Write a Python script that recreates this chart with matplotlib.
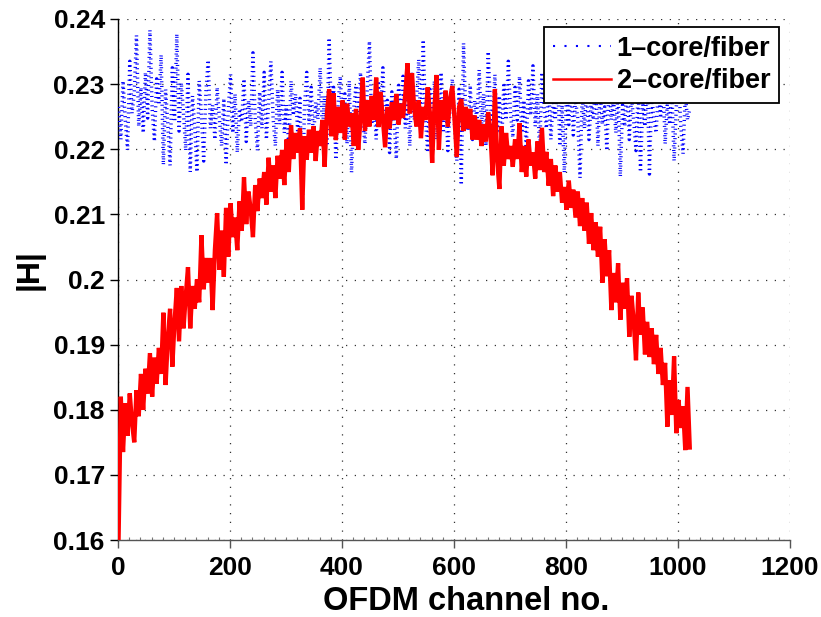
import numpy as np
import matplotlib
matplotlib.use("Agg")
import matplotlib.pyplot as plt
from matplotlib.lines import Line2D
from matplotlib.ticker import FuncFormatter, MultipleLocator

# OFDM sub-channel index (every 4th channel of the 1024)
channels = np.arange(1, 1025, 4)

# |H| per channel, single core per fiber
h_one_core = [
    0.2265, 0.2215, 0.2305, 0.2245, 0.2199, 0.2335, 0.2255, 0.2285, 0.2375, 0.2235, 0.2295, 0.2225, 0.2318, 0.2248, 0.2383, 0.2262,
    0.2212, 0.2308, 0.2268, 0.2345, 0.2176, 0.2292, 0.2238, 0.2175, 0.2325, 0.2242, 0.2377, 0.2228, 0.2302, 0.2255, 0.2198, 0.2315,
    0.2165, 0.2282, 0.2235, 0.2165, 0.2305, 0.2252, 0.2182, 0.2288, 0.2337, 0.2232, 0.2268, 0.2215, 0.2295, 0.2248, 0.2205, 0.2278,
    0.2176, 0.2262, 0.2315, 0.2225, 0.2285, 0.2195, 0.2262, 0.2242, 0.2308, 0.2212, 0.2275, 0.2235, 0.2348, 0.2245, 0.2198, 0.2288,
    0.2232, 0.2318, 0.2215, 0.2272, 0.2335, 0.2248, 0.2205, 0.2292, 0.2238, 0.2318, 0.2225, 0.2268, 0.2199, 0.2305, 0.2252, 0.2285,
    0.2225, 0.2278, 0.2107, 0.2265, 0.2318, 0.2238, 0.2295, 0.2215, 0.2272, 0.2246, 0.2325, 0.2228, 0.2282, 0.2205, 0.2371, 0.2252,
    0.2295, 0.2184, 0.2268, 0.2312, 0.2235, 0.2285, 0.2208, 0.2305, 0.2164, 0.2262, 0.2298, 0.2222, 0.2318, 0.2245, 0.2208, 0.2292,
    0.2366, 0.2238, 0.2282, 0.2215, 0.2305, 0.2252, 0.2325, 0.2228, 0.2275, 0.2195, 0.2288, 0.2245, 0.2185, 0.2298, 0.2255, 0.2312,
    0.2232, 0.2282, 0.2205, 0.2315, 0.2245, 0.2272, 0.2338, 0.2228, 0.2368, 0.2248, 0.2195, 0.2292, 0.2235, 0.2305, 0.2215, 0.2265,
    0.2318, 0.2225, 0.2285, 0.2198, 0.2265, 0.2308, 0.2238, 0.2182, 0.2292, 0.2145, 0.2363, 0.2252, 0.2228, 0.2298, 0.2215, 0.2275,
    0.2245, 0.2322, 0.2235, 0.2285, 0.2205, 0.2350, 0.2268, 0.2238, 0.2315, 0.2228, 0.2282, 0.2205, 0.2302, 0.2245, 0.2335, 0.2255,
    0.2218, 0.2295, 0.2245, 0.2312, 0.2225, 0.2275, 0.2198, 0.2305, 0.2252, 0.2328, 0.2235, 0.2285, 0.2195, 0.2318, 0.2262, 0.2232,
    0.2298, 0.2215, 0.2278, 0.2245, 0.2315, 0.2205, 0.2268, 0.2164, 0.2292, 0.2238, 0.2305, 0.2222, 0.2275, 0.2248, 0.2156, 0.2285,
    0.2232, 0.2298, 0.2215, 0.2272, 0.2245, 0.2312, 0.2205, 0.2288, 0.2238, 0.2265, 0.2198, 0.2302, 0.2245, 0.2278, 0.2225, 0.2292,
    0.2158, 0.2268, 0.2235, 0.2305, 0.2215, 0.2282, 0.2242, 0.2198, 0.2295, 0.2165, 0.2272, 0.2235, 0.2308, 0.2162, 0.2285, 0.2245,
    0.2225, 0.2298, 0.2248, 0.2315, 0.2208, 0.2272, 0.2238, 0.2292, 0.2182, 0.2265, 0.2312, 0.2235, 0.2193, 0.2285, 0.2245, 0.2262,
]

# |H| per channel, two cores per fiber
h_two_core = [
    0.1600, 0.1820, 0.1735, 0.1810, 0.1760, 0.1825, 0.1780, 0.1750, 0.1830, 0.1790, 0.1855, 0.1800, 0.1863, 0.1825, 0.1887, 0.1820,
    0.1880, 0.1840, 0.1895, 0.1855, 0.1949, 0.1838, 0.1910, 0.1955, 0.1866, 0.1935, 0.1987, 0.1905, 0.1990, 0.1925, 0.1975, 0.2019,
    0.1925, 0.1990, 0.1955, 0.2000, 0.1965, 0.2068, 0.1985, 0.2033, 0.1995, 0.2033, 0.1953, 0.2045, 0.2102, 0.2015, 0.2075, 0.2004,
    0.2110, 0.2035, 0.2117, 0.2065, 0.2095, 0.2045, 0.2120, 0.2075, 0.2157, 0.2085, 0.2135, 0.2107, 0.2065, 0.2145, 0.2105, 0.2155,
    0.2125, 0.2165, 0.2115, 0.2187, 0.2135, 0.2175, 0.2125, 0.2190, 0.2155, 0.2199, 0.2145, 0.2215, 0.2165, 0.2237, 0.2185, 0.2225,
    0.2195, 0.2232, 0.2107, 0.2220, 0.2184, 0.2230, 0.2195, 0.2235, 0.2182, 0.2228, 0.2205, 0.2245, 0.2173, 0.2255, 0.2292, 0.2220,
    0.2286, 0.2214, 0.2265, 0.2225, 0.2275, 0.2215, 0.2270, 0.2235, 0.2255, 0.2205, 0.2262, 0.2199, 0.2245, 0.2310, 0.2228, 0.2275,
    0.2235, 0.2282, 0.2245, 0.2310, 0.2234, 0.2288, 0.2245, 0.2203, 0.2265, 0.2232, 0.2272, 0.2245, 0.2285, 0.2238, 0.2270, 0.2248,
    0.2285, 0.2332, 0.2255, 0.2317, 0.2262, 0.2235, 0.2275, 0.2217, 0.2265, 0.2245, 0.2295, 0.2255, 0.2179, 0.2265, 0.2314, 0.2199,
    0.2275, 0.2245, 0.2290, 0.2235, 0.2278, 0.2297, 0.2245, 0.2188, 0.2265, 0.2277, 0.2228, 0.2265, 0.2232, 0.2262, 0.2215, 0.2252,
    0.2215, 0.2245, 0.2205, 0.2238, 0.2212, 0.2257, 0.2225, 0.2160, 0.2292, 0.2185, 0.2139, 0.2235, 0.2175, 0.2225, 0.2185, 0.2205,
    0.2173, 0.2215, 0.2185, 0.2240, 0.2165, 0.2205, 0.2158, 0.2215, 0.2175, 0.2195, 0.2155, 0.2212, 0.2168, 0.2233, 0.2165, 0.2196,
    0.2144, 0.2185, 0.2128, 0.2175, 0.2135, 0.2165, 0.2118, 0.2142, 0.2107, 0.2152, 0.2110, 0.2138, 0.2095, 0.2135, 0.2082, 0.2125,
    0.2075, 0.2118, 0.2055, 0.2102, 0.2045, 0.2088, 0.2035, 0.2081, 0.1995, 0.2062, 0.2005, 0.2045, 0.1953, 0.2010, 0.1965, 0.2025,
    0.1938, 0.1995, 0.1955, 0.2002, 0.1912, 0.1975, 0.1935, 0.1876, 0.1980, 0.1915, 0.1957, 0.1885, 0.1935, 0.1881, 0.1925, 0.1870,
    0.1915, 0.1855, 0.1895, 0.1838, 0.1872, 0.1774, 0.1845, 0.1792, 0.1882, 0.1764, 0.1815, 0.1772, 0.1805, 0.1738, 0.1835, 0.1742,
]

series_labels = ["1\u2013core/fiber", "2\u2013core/fiber"]
x_ticks = [0, 200, 400, 600, 800, 1000, 1200]
y_ticks = [0.16, 0.17, 0.18, 0.19, 0.20, 0.21, 0.22, 0.23, 0.24]

plt.rcParams["font.family"] = ["Liberation Sans", "DejaVu Sans"]
plt.rcParams["font.weight"] = "bold"

fig = plt.figure(figsize=(8.21, 6.17), dpi=100)
ax = fig.add_axes([118 / 821, 77 / 617, 672 / 821, 521 / 617])

blue_line, = ax.plot(channels, h_one_core, color=(0, 0, 1), lw=2.5,
                     dashes=(0.3, 1.05), solid_capstyle="butt",
                     dash_capstyle="butt", zorder=3)
red_line, = ax.plot(channels, h_two_core, color=(1, 0, 0), lw=3.1,
                    solid_joinstyle="miter", zorder=4)

ax.set_xlim(0, 1200)
ax.set_ylim(0.16, 0.24)
ax.set_xticks(x_ticks)
ax.set_yticks(y_ticks)
ax.yaxis.set_major_formatter(FuncFormatter(lambda v, p: f"{v:g}"))
ax.xaxis.set_minor_locator(MultipleLocator(20))

ax.grid(True, which="major", color="#333333", lw=0.9,
        linestyle=(0, (1, 6)))

for side in ("top", "right"):
    ax.spines[side].set_visible(False)
ax.spines["left"].set_color("black")
ax.spines["left"].set_linewidth(1.0)
ax.spines["bottom"].set_color("#555555")
ax.spines["bottom"].set_linewidth(1.0)

ax.tick_params(axis="both", which="major", direction="out", length=5.5,
               width=1.0, labelsize=19, pad=4)
ax.tick_params(axis="x", which="major", colors="#555555", labelcolor="black",
               pad=6)
ax.tick_params(axis="x", which="minor", direction="in", length=2.5,
               width=0.8, colors="#777777")
for lab in ax.get_xticklabels() + ax.get_yticklabels():
    lab.set_fontweight("bold")

ax.set_xlabel("OFDM channel no.", fontsize=23.5, fontweight="bold")
ax.xaxis.set_label_coords(0.518, -0.088)
ax.xaxis.label.set_va("top")
ax.set_ylabel("|H|", fontsize=23, fontweight="bold")
ax.yaxis.set_label_coords(-0.132, 0.52)
ax.yaxis.label.set_va("center")

legend_handles = [
    Line2D([], [], color=(0, 0, 1), lw=1.5, dashes=(1, 4.5)),
    Line2D([], [], color=(1, 0, 0), lw=1.8),
]
leg = ax.legend(legend_handles, series_labels, loc="upper right",
                bbox_to_anchor=(779 / 821, 1 - 27 / 617),
                bbox_transform=fig.transFigure, borderaxespad=0,
                prop={"weight": "bold", "size": 19.5},
                handlelength=2.15, handletextpad=0.2, labelspacing=0.25,
                borderpad=0.32, fancybox=False, framealpha=1,
                edgecolor="black")
leg.get_frame().set_linewidth(1.3)
leg.set_zorder(10)

fig.savefig("out.png", dpi=100)
